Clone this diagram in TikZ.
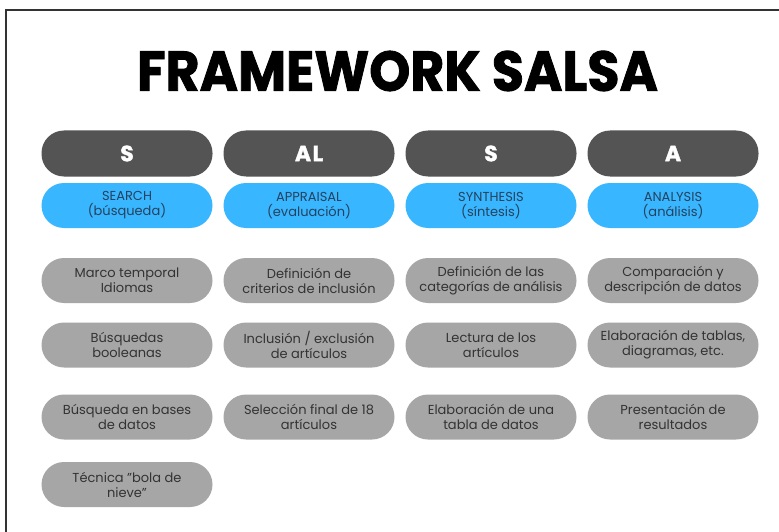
\documentclass[tikz,border=0pt]{standalone}
\usepackage{fontspec}
\setmainfont{Poppins}
\newfontfamily\heavyfont[BoldFeatures={FakeBold=1.5}]{Poppins}
\usetikzlibrary{positioning}
\definecolor{darkpill}{HTML}{545454}
\definecolor{bluepill}{HTML}{38B6FF}
\definecolor{graypill}{HTML}{A6A6A6}
\definecolor{bluetext}{HTML}{26425E}
\definecolor{graytext}{HTML}{333333}
\definecolor{framecol}{HTML}{333333}
\tikzset{
  pill/.style={rectangle, rounded corners=22.5pt, minimum width=171pt, minimum height=45pt, inner sep=0pt, align=center},
  letterpill/.style={pill, fill=darkpill, minimum height=46pt, text=white, font=\fontsize{22}{24}\selectfont\heavyfont\bfseries},
  phasepill/.style={pill, fill=bluepill, text=bluetext, font=\fontsize{13}{15}\selectfont},
  itempill/.style={pill, fill=graypill, text=graytext, font=\fontsize{13}{15}\selectfont},
  framerule/.style={draw=framecol, line width=1.3pt}
}
\begin{document}
\begin{tikzpicture}[x=1pt,y=-1pt]
\useasboundingbox (0,0) rectangle (779,532);
\fill[white] (0,0) rectangle (779,532);
\coordinate (fa) at (6,532);
\coordinate (fb) at (6,10);
\coordinate (fc) at (779,10);
\draw[framerule] (fa) -- (fb) -- (fc);
\node (title) at (397.5,71) {\resizebox{521pt}{40pt}{\heavyfont\bfseries FRAMEWORK SALSA}};
% letter row
\node[letterpill] (d1) at (127,153.5) {S};
\node[letterpill] (d2) at (309,153.5) {A\kern1.5pt L};
\node[letterpill] (d3) at (491,153.5) {S};
\node[letterpill] (d4) at (673,153.5) {A};
% phase row
\node[phasepill] (b1) at (127,205.5) {SEARCH\\(búsqueda)};
\node[phasepill] (b2) at (309,205.5) {APPRAISAL\\(evaluación)};
\node[phasepill] (b3) at (491,205.5) {SYNTHESIS\\(síntesis)};
\node[phasepill] (b4) at (673,205.5) {ANALYSIS\\(análisis)};
% items row 1
\node[itempill] (g11) at (127,280.5) {Marco temporal\\Idiomas};
\node[itempill] (g21) at (309,280.5) {Definición de\\criterios de inclusión};
\node[itempill] (g31) at (491,280.5) {Definición de las\\categorías de análisis};
\node[itempill] (g41) at (673,280.5) {Comparación y\\descripción de datos};
% items row 2
\node[itempill] (g12) at (127,345) {Búsquedas\\booleanas};
\node[itempill] (g22) at (309,345) {Inclusión / exclusión\\de artículos};
\node[itempill] (g32) at (491,345) {Lectura de los\\artículos};
\node[itempill] (g42) at (673,345) {Elaboración de tablas,\\diagramas, etc.};
% items row 3
\node[itempill] (g13) at (127,417) {Búsqueda en bases\\de datos};
\node[itempill] (g23) at (309,417) {Selección final de 18\\artículos};
\node[itempill] (g33) at (491,417) {Elaboración de una\\tabla de datos};
\node[itempill] (g43) at (673,417) {Presentación de\\resultados};
% items row 4
\node[itempill] (g14) at (127,484.5) {Técnica "bola de\\nieve"};
\end{tikzpicture}
\end{document}
